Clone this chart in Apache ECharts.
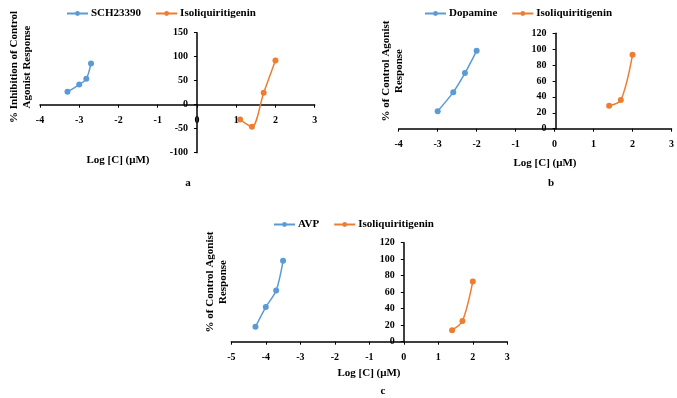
<!DOCTYPE html>
<html>
<head>
<meta charset="utf-8">
<script src="https://cdn.jsdelivr.net/npm/echarts@6/dist/echarts.min.js"></script>
<style>
  html, body { margin: 0; padding: 0; background: #fff; }
  #chart { width: 677px; height: 398px; }
</style>
</head>
<body>
<div id="chart"></div>
<script>
// panel a : SCH23390 vs Isoliquiritigenin (% inhibition)
var schX = [-3.3, -3.0, -2.82, -2.7];
var schY = [27, 42, 54, 86];
var isoAX = [1.1, 1.4, 1.7, 2.0];
var isoAY = [-31, -46, 25, 92];
// panel b : Dopamine vs Isoliquiritigenin
var dopX = [-3.0, -2.6, -2.3, -2.0];
var dopY = [22, 46, 70, 98];
var isoBX = [1.4, 1.7, 2.0];
var isoBY = [29, 36, 93];
// panel c : AVP vs Isoliquiritigenin
var avpX = [-4.3, -4.0, -3.7, -3.5];
var avpY = [18, 42, 62, 98];
var isoCX = [1.4, 1.7, 2.0];
var isoCY = [14, 25, 73];

var BLUE = '#5B9BD5';
var ORANGE = '#ED7D31';
var FONT = '"Liberation Serif", "DejaVu Serif", serif';

// grid boxes (px) and axis ranges per panel
var grids = [
  { left: 40, top: 32.7, width: 274.7, height: 120 },
  { left: 398.7, top: 33.3, width: 274.6, height: 95.4 },
  { left: 231.3, top: 242.7, width: 276, height: 99 }
];
var xRange = [[-4, 3], [-4, 3], [-5, 3]];
var yRange = [[-100, 150, 50], [0, 120, 20], [0, 120, 20]];

function pairs(xs, ys) {
  return xs.map(function (x, i) { return [x, ys[i]]; });
}

// axes cross at zero: shift them inward from the grid edge
function xAxisOf(idx) {
  var r = yRange[idx], g = grids[idx];
  var off = -(0 - r[0]) / (r[1] - r[0]) * g.height;
  return {
    type: 'value', gridIndex: idx, min: xRange[idx][0], max: xRange[idx][1], interval: 1,
    position: 'bottom', offset: off,
    axisLine: { onZero: false, lineStyle: { color: '#000', width: 1.5 } },
    axisTick: { show: true, length: 3, lineStyle: { color: '#000' } },
    axisLabel: { color: '#000', fontFamily: FONT, fontSize: 10, fontWeight: 'bold', margin: 11 },
    splitLine: { show: false }
  };
}

function yAxisOf(idx) {
  var r = xRange[idx], g = grids[idx];
  var off = -(0 - r[0]) / (r[1] - r[0]) * g.width;
  return {
    type: 'value', gridIndex: idx, min: yRange[idx][0], max: yRange[idx][1], interval: yRange[idx][2],
    position: 'left', offset: off,
    axisLine: { show: true, onZero: false, lineStyle: { color: '#000', width: 1.5 } },
    axisTick: { show: true, length: 3, lineStyle: { color: '#000' } },
    axisLabel: { color: '#000', fontFamily: FONT, fontSize: 10, fontWeight: 'bold', margin: 9 },
    splitLine: { show: false }
  };
}

function lineOf(name, idx, data, color) {
  return {
    name: name, type: 'line', xAxisIndex: idx, yAxisIndex: idx,
    data: data, smooth: 0.3, symbol: 'circle', symbolSize: 6,
    lineStyle: { color: color, width: 1.5 },
    itemStyle: { color: color },
    animation: false
  };
}

function legendOf(left, top, names) {
  return {
    left: left, top: top, data: names, itemWidth: 21, itemHeight: 6, itemGap: 14,
    textStyle: { color: '#000', fontFamily: FONT, fontSize: 11, fontWeight: 'bold', padding: [0, 0, 0, -2] }
  };
}

function label(x, y, text, rot, size) {
  return {
    type: 'text', x: x, y: y, rotation: rot || 0,
    style: {
      text: text, fill: '#000', align: 'center', verticalAlign: 'middle',
      font: 'bold ' + (size || 11) + 'px ' + FONT, lineHeight: 13
    }
  };
}

var chart = echarts.init(document.getElementById('chart'));
chart.setOption({
  backgroundColor: '#fff',
  animation: false,
  grid: grids,
  xAxis: [xAxisOf(0), xAxisOf(1), xAxisOf(2)],
  yAxis: [yAxisOf(0), yAxisOf(1), yAxisOf(2)],
  legend: [
    legendOf(61, 3, ['SCH23390', 'Isoliquiritigenin']),
    legendOf(419, 3, ['Dopamine', 'Isoliquiritigenin']),
    legendOf(268, 214, ['AVP', 'Isoliquiritigenin'])
  ],
  series: [
    lineOf('SCH23390', 0, pairs(schX, schY), BLUE),
    lineOf('Isoliquiritigenin', 0, pairs(isoAX, isoAY), ORANGE),
    lineOf('Dopamine', 1, pairs(dopX, dopY), BLUE),
    lineOf('Isoliquiritigenin', 1, pairs(isoBX, isoBY), ORANGE),
    lineOf('AVP', 2, pairs(avpX, avpY), BLUE),
    lineOf('Isoliquiritigenin', 2, pairs(isoCX, isoCY), ORANGE)
  ],
  graphic: [
    label(21, 67, '% Inhibition of Control\nAgonist Response', Math.PI / 2),
    label(118, 160, 'Log [C] (\u03bcM)'),
    label(188, 183, 'a'),
    label(393, 71, '% of Control Agonist\nResponse', Math.PI / 2),
    label(545, 163, 'Log [C] (\u03bcM)'),
    label(551, 183, 'b'),
    label(217, 282, '% of Control Agonist\nResponse', Math.PI / 2),
    label(369, 373, 'Log [C] (\u03bcM)'),
    label(383, 391, 'c')
  ]
});
</script>
</body>
</html>
